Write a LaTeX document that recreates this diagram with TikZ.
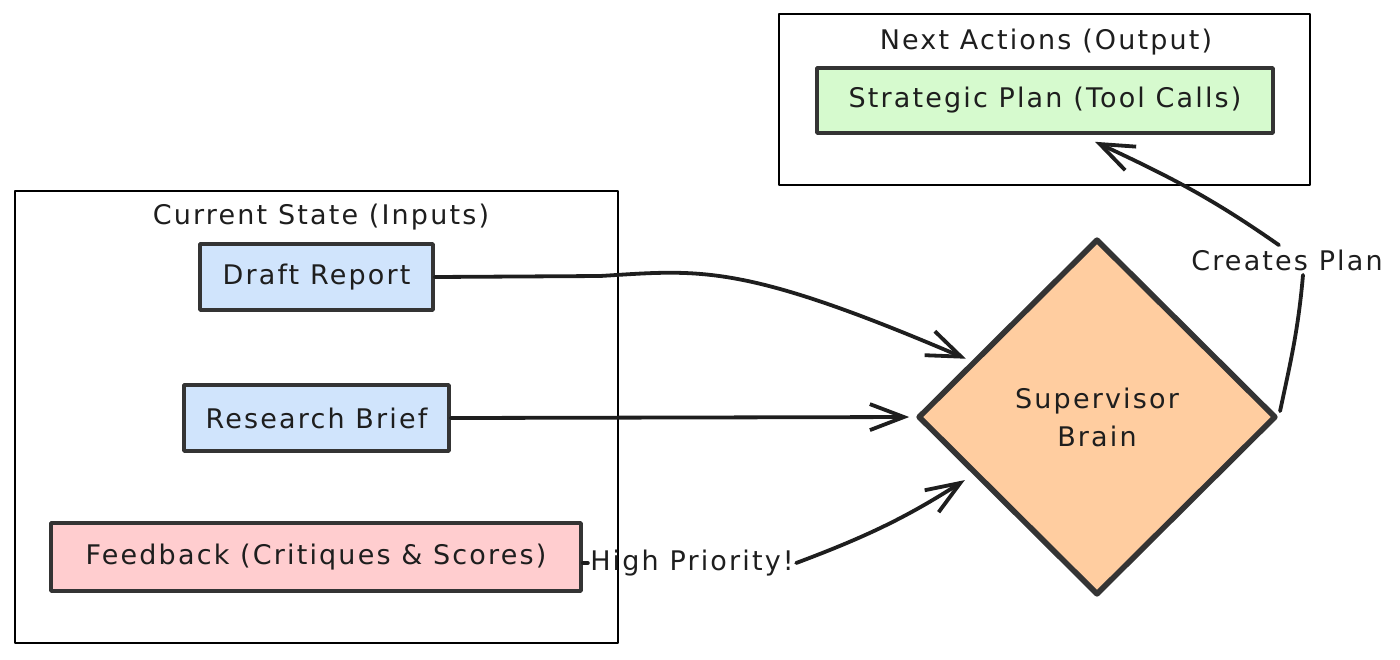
\documentclass[tikz,border=0pt]{standalone}
\usepackage{fontspec}
\setmainfont{DejaVu Sans}[LetterSpace=8]
\usetikzlibrary{arrows.meta,shapes.geometric}

\begin{document}
\begin{tikzpicture}[x=0.5pt,y=-0.5pt,line join=round,line cap=round]

  % ---- colours ----
  \definecolor{inkdark}{RGB}{30,30,30}
  \definecolor{inkgray}{RGB}{52,52,52}
  \definecolor{boxblue}{RGB}{208,228,252}
  \definecolor{boxpink}{RGB}{255,205,207}
  \definecolor{boxgreen}{RGB}{214,250,206}
  \definecolor{brainpeach}{RGB}{255,205,160}

  \tikzset{
    handfont/.style={font=\fontsize{13.5}{16}\selectfont,text=inkdark},
    inbox/.style={handfont,draw=inkgray,line width=1.8pt,inner sep=0pt,minimum height=33pt},
    groupbox/.style={draw=black,line width=1.2pt},
    flow/.style={draw=inkdark,line width=1.9pt,-{Straight Barb[length=17pt,width=13pt]}},
  }

  % ---- canvas (page pixels) ----
  \useasboundingbox (0,0) rectangle (1400,659);

  % ---- group frames ----
  \draw[groupbox] (15,191) rectangle (618,643);
  \node[handfont] (curtitle) at (321,217) {Current State (Inputs)};

  \draw[groupbox] (779,14) rectangle (1310,185);
  \node[handfont] (nexttitle) at (1046,42) {Next Actions (Output)};

  % ---- inputs ----
  \node[inbox,fill=boxblue,minimum width=116.5pt] (draft) at (316.5,277) {Draft Report};
  \node[inbox,fill=boxblue,minimum width=132.5pt] (brief) at (316.5,418) {Research Brief};
  \node[inbox,fill=boxpink,minimum width=265pt,minimum height=34pt] (feedback) at (316,557) {Feedback (Critiques \& Scores)};

  % ---- output ----
  \node[inbox,fill=boxgreen,minimum width=228pt,minimum height=32.5pt] (plan) at (1045,100.5) {Strategic Plan (Tool Calls)};

  % ---- supervisor ----
  \node[diamond,draw=inkgray,line width=2.8pt,fill=brainpeach,inner sep=0pt,
        minimum width=179pt,minimum height=178pt,align=center,
        font=\fontsize{13.5}{19}\selectfont,text=inkdark] (brain) at (1097,417) {Supervisor\\Brain};

  % ---- edge labels ----
  \node[handfont,inner sep=1pt] (prio) at (692,563) {High Priority!};
  \node[handfont,inner sep=2pt] (cplan) at (1287,260) {Creates Plan};

  % ---- connectors ----
  \draw[flow,shorten >=3pt] (draft.east) -- (600,276) .. controls (700,270) and (740,262) .. (brain.156);
  \draw[flow,shorten >=3pt] (brief.east) -- (brain.west);
  \draw[draw=inkdark,line width=1.9pt] (feedback.east |- prio.west) -- (prio.west);
  \draw[flow,shorten >=5pt] (prio.east) to[bend right=6] (brain.205);
  \draw[draw=inkdark,line width=1.9pt,shorten <=3pt] (brain.east) to[out=78,in=-95] ([xshift=8pt]cplan.south);
  \draw[flow] ([xshift=-4pt]cplan.north) to[out=145,in=-25] ([xshift=25pt,yshift=-3.5pt]plan.south);

\end{tikzpicture}
\end{document}
